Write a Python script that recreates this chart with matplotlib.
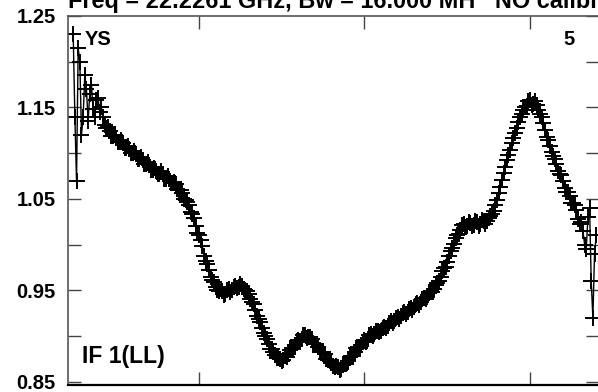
import numpy as np
import matplotlib
matplotlib.use("Agg")
import matplotlib.pyplot as plt

plt.rcParams['font.family'] = ['Liberation Sans', 'DejaVu Sans']
plt.rcParams['font.weight'] = 'bold'

# spectrum amplitude per channel, channel 24 onwards
amp = [
    1.230, 1.140, 1.070, 1.215, 1.200, 1.120, 1.140, 1.185, 1.170, 1.135,
    1.165, 1.175, 1.148, 1.140, 1.158, 1.160, 1.145, 1.150, 1.140, 1.131,
    1.128, 1.129, 1.124, 1.119, 1.119, 1.120, 1.117, 1.112, 1.112, 1.114,
    1.111, 1.106, 1.106, 1.108, 1.105, 1.100, 1.100, 1.102, 1.099, 1.094,
    1.094, 1.096, 1.093, 1.088, 1.088, 1.090, 1.087, 1.082, 1.082, 1.084,
    1.081, 1.077, 1.077, 1.080, 1.077, 1.072, 1.072, 1.075, 1.072, 1.067,
    1.067, 1.069, 1.066, 1.061, 1.060, 1.060, 1.056, 1.050, 1.049, 1.047,
    1.043, 1.036, 1.034, 1.029, 1.020, 1.013, 1.010, 1.005, 0.998, 0.988,
    0.982, 0.979, 0.972, 0.965, 0.961, 0.959, 0.954, 0.950, 0.949, 0.951,
    0.949, 0.945, 0.946, 0.950, 0.951, 0.948, 0.950, 0.954, 0.955, 0.952,
    0.954, 0.957, 0.955, 0.951, 0.950, 0.949, 0.946, 0.940, 0.937, 0.935,
    0.929, 0.922, 0.919, 0.915, 0.909, 0.903, 0.900, 0.897, 0.891, 0.886,
    0.886, 0.883, 0.879, 0.876, 0.876, 0.875, 0.873, 0.874, 0.878, 0.877,
    0.880, 0.885, 0.887, 0.886, 0.890, 0.895, 0.896, 0.895, 0.897, 0.901,
    0.901, 0.898, 0.899, 0.899, 0.897, 0.892, 0.891, 0.891, 0.888, 0.883,
    0.882, 0.882, 0.880, 0.875, 0.874, 0.873, 0.871, 0.867, 0.866, 0.867,
    0.866, 0.863, 0.864, 0.868, 0.869, 0.869, 0.873, 0.877, 0.878, 0.878,
    0.882, 0.887, 0.888, 0.887, 0.890, 0.894, 0.896, 0.894, 0.897, 0.901,
    0.902, 0.900, 0.902, 0.905, 0.906, 0.904, 0.906, 0.909, 0.910, 0.909,
    0.911, 0.914, 0.916, 0.914, 0.916, 0.920, 0.921, 0.919, 0.922, 0.925,
    0.926, 0.924, 0.926, 0.930, 0.931, 0.929, 0.932, 0.935, 0.936, 0.934,
    0.937, 0.941, 0.942, 0.941, 0.943, 0.947, 0.949, 0.948, 0.951, 0.956,
    0.958, 0.960, 0.965, 0.971, 0.974, 0.976, 0.981, 0.988, 0.993, 0.996,
    1.001, 1.007, 1.011, 1.012, 1.016, 1.021, 1.022, 1.019, 1.020, 1.025,
    1.024, 1.020, 1.021, 1.026, 1.025, 1.020, 1.022, 1.027, 1.026, 1.022,
    1.026, 1.029, 1.031, 1.033, 1.037, 1.043, 1.049, 1.056, 1.063, 1.071,
    1.078, 1.085, 1.092, 1.098, 1.104, 1.111, 1.117, 1.122, 1.128, 1.134,
    1.139, 1.143, 1.147, 1.150, 1.152, 1.157, 1.158, 1.153, 1.154, 1.157,
    1.153, 1.147, 1.143, 1.139, 1.133, 1.125, 1.118, 1.114, 1.108, 1.101,
    1.097, 1.094, 1.088, 1.080, 1.077, 1.076, 1.070, 1.062, 1.058, 1.058,
    1.053, 1.046, 1.045, 1.043, 1.038, 1.028, 1.022, 1.025, 1.015, 1.000,
    0.995, 1.030, 1.040, 0.960, 0.920, 0.990, 1.010,
]
channels = np.arange(24, 24 + len(amp))

title = "Freq = 22.2261 GHz, Bw = 16.000 MH   NO calibration applied"
source = "YS"
panel = "5"
ifname = "IF 1(LL)"

fig = plt.figure(figsize=(5.98, 3.92), dpi=100)
ax = fig.add_axes([68/598, 1 - 384.5/392, 531/598, 368.5/392])

ax.plot(channels, amp, color='black', lw=1.0, marker='+', ms=12, mew=1.4)

ax.set_xlim(20.85, 341.7)
ax.set_ylim(0.847, 1.25)
ax.set_xticks([100, 200, 300])
ax.set_xticklabels([])
ax.set_yticks(np.arange(0.85, 1.2501, 0.05))
ax.set_yticklabels(['0.85', '', '0.95', '', '1.05', '', '1.15', '', '1.25'])
ax.tick_params(axis='both', direction='in', length=9.5, width=1, color='#444444',
               labelsize=14.5, right=True, top=True)
ax.tick_params(axis='y', pad=9)
for lab in ax.get_yticklabels():
    lab.set_fontweight('bold')

for s in ['left', 'top', 'right']:
    ax.spines[s].set_color('#555555')
    ax.spines[s].set_linewidth(1.2)
ax.spines['bottom'].set_color('black')
ax.spines['bottom'].set_linewidth(1.6)

ax.text(0.031, 0.935, source, transform=ax.transAxes, fontsize=14.5,
        fontweight='bold', va='center', ha='left')
ax.text(0.943, 0.935, panel, transform=ax.transAxes, fontsize=14.5,
        fontweight='bold', va='center', ha='center')
ax.text(0.027, 0.075, ifname, transform=ax.transAxes, fontsize=16.5,
        fontweight='bold', va='center', ha='left')

fig.text(68/598, 1 - 8/392, title, fontsize=16.9, fontweight='bold',
         va='baseline', ha='left')

fig.savefig('out.png', dpi=100)
